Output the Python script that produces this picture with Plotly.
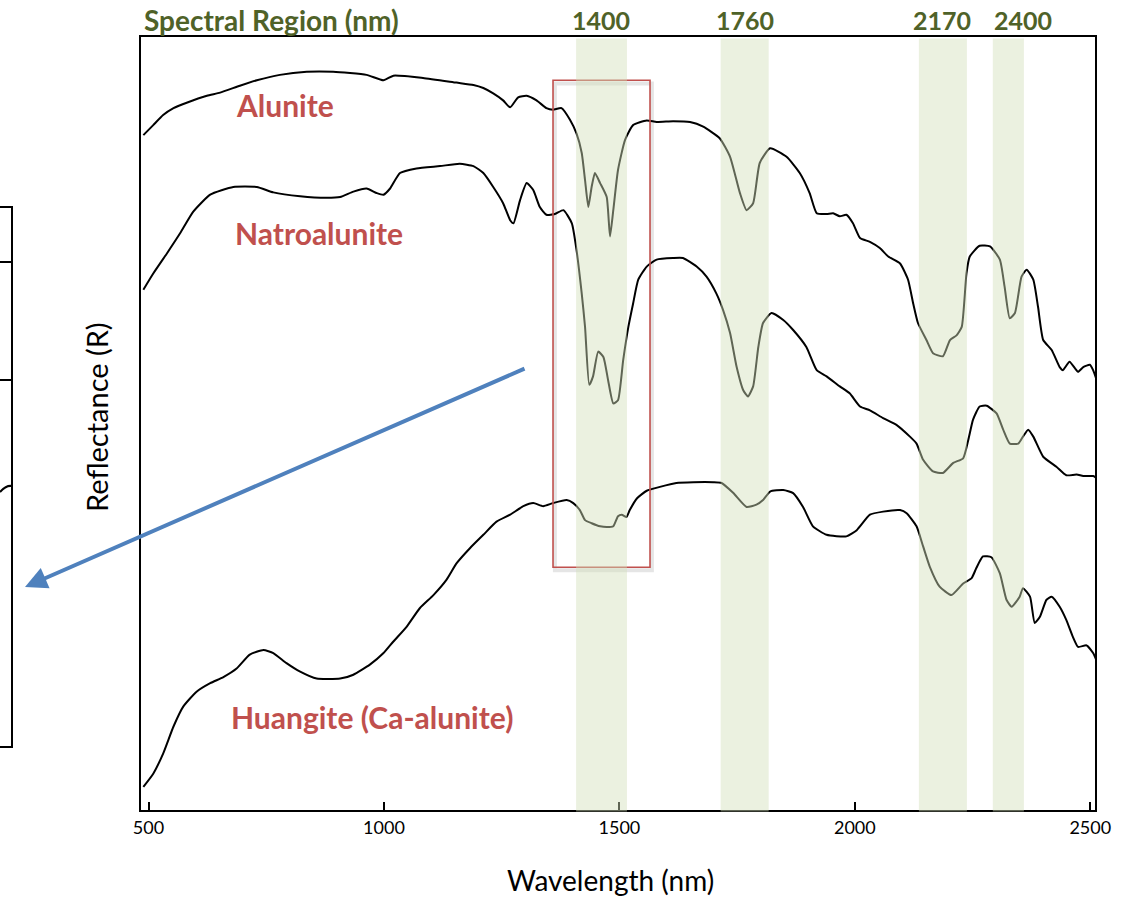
import plotly.graph_objects as go

# ---------------- data (wavelength nm, relative reflectance, curves offset) ----------------
alunite_wl = [489, 510, 531, 553, 581, 624, 652, 694, 730, 779, 836, 892, 963, 999, 1020, 1083, 1154, 1190,
              1211, 1232, 1253, 1268, 1285, 1303, 1324, 1345, 1359, 1377, 1395, 1409, 1420, 1427, 1434, 1441,
              1448, 1459, 1473, 1480, 1487, 1497, 1512, 1529, 1558, 1579, 1614, 1650, 1678, 1713, 1735, 1756,
              1770, 1784, 1798, 1820, 1855, 1883, 1904, 1919, 1940, 1954, 1968, 1982, 1996, 2011, 2032, 2053,
              2071, 2096, 2113, 2124, 2134, 2152, 2166, 2187, 2202, 2216, 2227, 2237, 2244, 2265, 2287, 2308,
              2318, 2329, 2340, 2354, 2365, 2379, 2389, 2400, 2418, 2435, 2442, 2456, 2474, 2485, 2499, 2506, 2517]
alunite_r = [0.873, 0.886, 0.899, 0.908, 0.915, 0.924, 0.928, 0.937, 0.944, 0.951, 0.955, 0.955, 0.951, 0.944,
             0.950, 0.947, 0.941, 0.938, 0.934, 0.927, 0.918, 0.909, 0.922, 0.924, 0.918, 0.908, 0.906, 0.908,
             0.893, 0.875, 0.850, 0.815, 0.780, 0.806, 0.824, 0.811, 0.793, 0.742, 0.776, 0.828, 0.867, 0.886,
             0.892, 0.890, 0.891, 0.890, 0.884, 0.869, 0.845, 0.798, 0.776, 0.785, 0.837, 0.856, 0.845, 0.824,
             0.798, 0.772, 0.771, 0.772, 0.768, 0.770, 0.759, 0.740, 0.735, 0.727, 0.716, 0.707, 0.686, 0.655,
             0.630, 0.608, 0.591, 0.587, 0.608, 0.614, 0.625, 0.694, 0.716, 0.730, 0.729, 0.712, 0.677, 0.636,
             0.643, 0.690, 0.699, 0.686, 0.651, 0.608, 0.595, 0.573, 0.569, 0.580, 0.567, 0.573, 0.576, 0.569,
             0.550]

natro_wl = [489, 510, 539, 567, 595, 631, 680, 730, 765, 822, 878, 907, 935, 963, 985, 999, 1013, 1034, 1069,
            1119, 1161, 1190, 1211, 1232, 1253, 1268, 1275, 1289, 1303, 1317, 1331, 1345, 1363, 1381, 1399,
            1409, 1420, 1427, 1436, 1444, 1455, 1466, 1476, 1487, 1497, 1508, 1519, 1529, 1540, 1558, 1579,
            1614, 1635, 1664, 1685, 1706, 1720, 1735, 1749, 1763, 1773, 1784, 1795, 1805, 1823, 1848, 1869,
            1897, 1919, 1940, 1968, 1989, 2011, 2032, 2060, 2089, 2117, 2131, 2145, 2166, 2187, 2209, 2230,
            2241, 2251, 2265, 2280, 2301, 2315, 2329, 2347, 2357, 2368, 2379, 2400, 2428, 2449, 2471, 2485,
            2506, 2517]
natro_r = [0.673, 0.694, 0.720, 0.746, 0.774, 0.796, 0.806, 0.806, 0.799, 0.794, 0.792, 0.793, 0.800, 0.804,
           0.798, 0.796, 0.804, 0.824, 0.830, 0.833, 0.836, 0.833, 0.824, 0.806, 0.785, 0.763, 0.759, 0.789,
           0.811, 0.802, 0.780, 0.770, 0.771, 0.776, 0.759, 0.724, 0.668, 0.625, 0.550, 0.561, 0.593, 0.586,
           0.556, 0.526, 0.530, 0.582, 0.625, 0.655, 0.686, 0.703, 0.712, 0.714, 0.714, 0.703, 0.690, 0.668,
           0.647, 0.617, 0.573, 0.543, 0.535, 0.548, 0.599, 0.630, 0.643, 0.634, 0.621, 0.599, 0.569, 0.561,
           0.548, 0.539, 0.522, 0.517, 0.507, 0.498, 0.483, 0.474, 0.453, 0.438, 0.436, 0.449, 0.455, 0.479,
           0.505, 0.522, 0.523, 0.513, 0.492, 0.474, 0.474, 0.483, 0.492, 0.483, 0.457, 0.444, 0.433, 0.434,
           0.432, 0.432, 0.428]

huang_wl = [489, 510, 531, 553, 574, 602, 631, 659, 687, 715, 744, 765, 793, 822, 857, 907, 935, 970, 999,
            1020, 1048, 1076, 1105, 1133, 1154, 1183, 1211, 1239, 1268, 1296, 1317, 1338, 1359, 1388, 1402,
            1416, 1427, 1441, 1459, 1473, 1487, 1497, 1505, 1515, 1522, 1537, 1558, 1586, 1621, 1657, 1699,
            1717, 1742, 1770, 1791, 1805, 1820, 1848, 1869, 1890, 1911, 1940, 1982, 2004, 2032, 2060, 2096,
            2110, 2131, 2145, 2159, 2180, 2205, 2230, 2248, 2258, 2272, 2290, 2308, 2322, 2333, 2350, 2357,
            2372, 2382, 2393, 2407, 2418, 2435, 2449, 2463, 2474, 2492, 2506, 2517]
huang_r = [0.030, 0.047, 0.073, 0.108, 0.134, 0.153, 0.164, 0.172, 0.183, 0.201, 0.207, 0.203, 0.190, 0.179,
           0.170, 0.170, 0.175, 0.188, 0.203, 0.218, 0.237, 0.261, 0.278, 0.298, 0.319, 0.339, 0.356, 0.373,
           0.382, 0.393, 0.397, 0.393, 0.397, 0.401, 0.397, 0.388, 0.375, 0.371, 0.367, 0.366, 0.367, 0.380,
           0.382, 0.379, 0.388, 0.403, 0.413, 0.418, 0.423, 0.424, 0.424, 0.423, 0.410, 0.392, 0.395, 0.401,
           0.412, 0.414, 0.410, 0.392, 0.367, 0.356, 0.354, 0.362, 0.382, 0.386, 0.388, 0.384, 0.367, 0.341,
           0.315, 0.289, 0.278, 0.293, 0.300, 0.313, 0.328, 0.327, 0.306, 0.272, 0.263, 0.276, 0.287, 0.276,
           0.242, 0.250, 0.272, 0.276, 0.263, 0.246, 0.224, 0.211, 0.213, 0.203, 0.188]

curve_names = ["Alunite", "Natroalunite", "Huangite (Ca-alunite)"]
label_pos_wl = [682, 679, 671]
label_pos_r = [0.912, 0.746, 0.120]

band_labels = ["1400", "1760", "2170", "2400"]
band_start = [1408, 1715, 2136, 2293]
band_end = [1516, 1817, 2238, 2359]
band_label_wl = [1461, 1766, 2185, 2357]

box_wl = [1359, 1565]
box_r = [0.314, 0.944]

x_ticks = [500, 1000, 1500, 2000, 2500]
x_range = [484, 2510]
y_range = [0, 1]

# ---------------- styles ----------------
GREEN = "#4F6228"
RED = "#C0504D"
BLUE = "#4F81BD"
FONT = "Lato"

fig = go.Figure()
for wl, r, nm in zip([alunite_wl, natro_wl, huang_wl], [alunite_r, natro_r, huang_r], curve_names):
    fig.add_trace(go.Scatter(x=wl, y=r, mode="lines", name=nm,
                             line=dict(color="black", width=2, shape="spline", smoothing=0.5),
                             hoverinfo="skip"))

shapes = []
# red box shadow + box
shapes.append(dict(type="rect", xref="x", yref="y", layer="above",
                   x0=box_wl[0] + 4, x1=box_wl[1] + 4, y0=box_r[0] - 0.004, y1=box_r[1] - 0.004,
                   line=dict(color="rgba(0,0,0,0.10)", width=4)))
shapes.append(dict(type="rect", xref="x", yref="y", layer="above",
                   x0=box_wl[0], x1=box_wl[1], y0=box_r[0], y1=box_r[1],
                   line=dict(color=RED, width=1.6)))
# spectral bands (translucent overlay)
for s, e in zip(band_start, band_end):
    shapes.append(dict(type="rect", xref="x", yref="paper", layer="above",
                       x0=s, x1=e, y0=-0.002, y1=0.998,
                       fillcolor="#D3E0BA", opacity=0.45, line=dict(width=0)))

# partial frame of neighbouring panel at the far left (page pixels -> paper)
def px(xp):
    return (xp - 141) / 954

def py(yp):
    return (810 - yp) / 773

left_path = (f"M {px(-2)},{py(207)} L {px(12)},{py(207)} L {px(12)},{py(747)} L {px(-2)},{py(747)} "
             f"M {px(-2)},{py(262)} L {px(12)},{py(262)} "
             f"M {px(-2)},{py(380)} L {px(12)},{py(380)} "
             f"M {px(0)},{py(492)} Q {px(6)},{py(485)} {px(12)},{py(486)}")
shapes.append(dict(type="path", xref="paper", yref="paper", path=left_path,
                   line=dict(color="black", width=2)))

annotations = []
for nm, xw, yr in zip(curve_names, label_pos_wl, label_pos_r):
    annotations.append(dict(x=xw, y=yr, xref="x", yref="y", text=nm, showarrow=False,
                            xanchor="left", yanchor="middle",
                            font=dict(family=FONT, size=30, color=RED, weight="bold")))
annotations.append(dict(x=px(142), y=py(20), xref="paper", yref="paper", text="Spectral Region (nm)",
                        showarrow=False, xanchor="left", yanchor="middle",
                        font=dict(family=FONT, size=28, color=GREEN, weight="bold")))
for lab, xw in zip(band_labels, band_label_wl):
    annotations.append(dict(x=xw, y=py(20), xref="x", yref="paper", text=lab, showarrow=False,
                            xanchor="center", yanchor="middle",
                            font=dict(family=FONT, size=25, color=GREEN, weight="bold")))
annotations.append(dict(x=px(96), y=py(417), xref="paper", yref="paper", text="Reflectance (R)",
                        textangle=-90, showarrow=False, xanchor="center", yanchor="middle",
                        font=dict(family=FONT, size=29, color="black")))
annotations.append(dict(x=px(610), y=py(880), xref="paper", yref="paper", text="Wavelength (nm)",
                        showarrow=False, xanchor="center", yanchor="middle",
                        font=dict(family=FONT, size=28, color="black")))
# blue arrow pointing out to the left panel
annotations.append(dict(x=px(25), y=py(587), xref="paper", yref="paper", ax=501, ay=-219,
                        axref="pixel", ayref="pixel", text="", showarrow=True,
                        arrowhead=2, arrowsize=1.1, arrowwidth=4, arrowcolor=BLUE))

fig.update_layout(
    width=1125, height=898,
    margin=dict(l=141, r=30, t=37, b=88),
    paper_bgcolor="white", plot_bgcolor="white",
    showlegend=False,
    shapes=shapes, annotations=annotations,
    xaxis=dict(range=x_range, tickvals=x_ticks, ticktext=[str(t) for t in x_ticks],
               showgrid=False, zeroline=False, showline=True, linecolor="black", linewidth=2,
               mirror=True, ticks="inside", ticklen=8, tickwidth=2, tickcolor="black",
               tickfont=dict(family=FONT, size=18, color="black")),
    yaxis=dict(range=y_range, showgrid=False, zeroline=False, showline=True, linecolor="black",
               linewidth=2, mirror=True, showticklabels=False, ticks=""),
)

fig.write_html("out.html")
